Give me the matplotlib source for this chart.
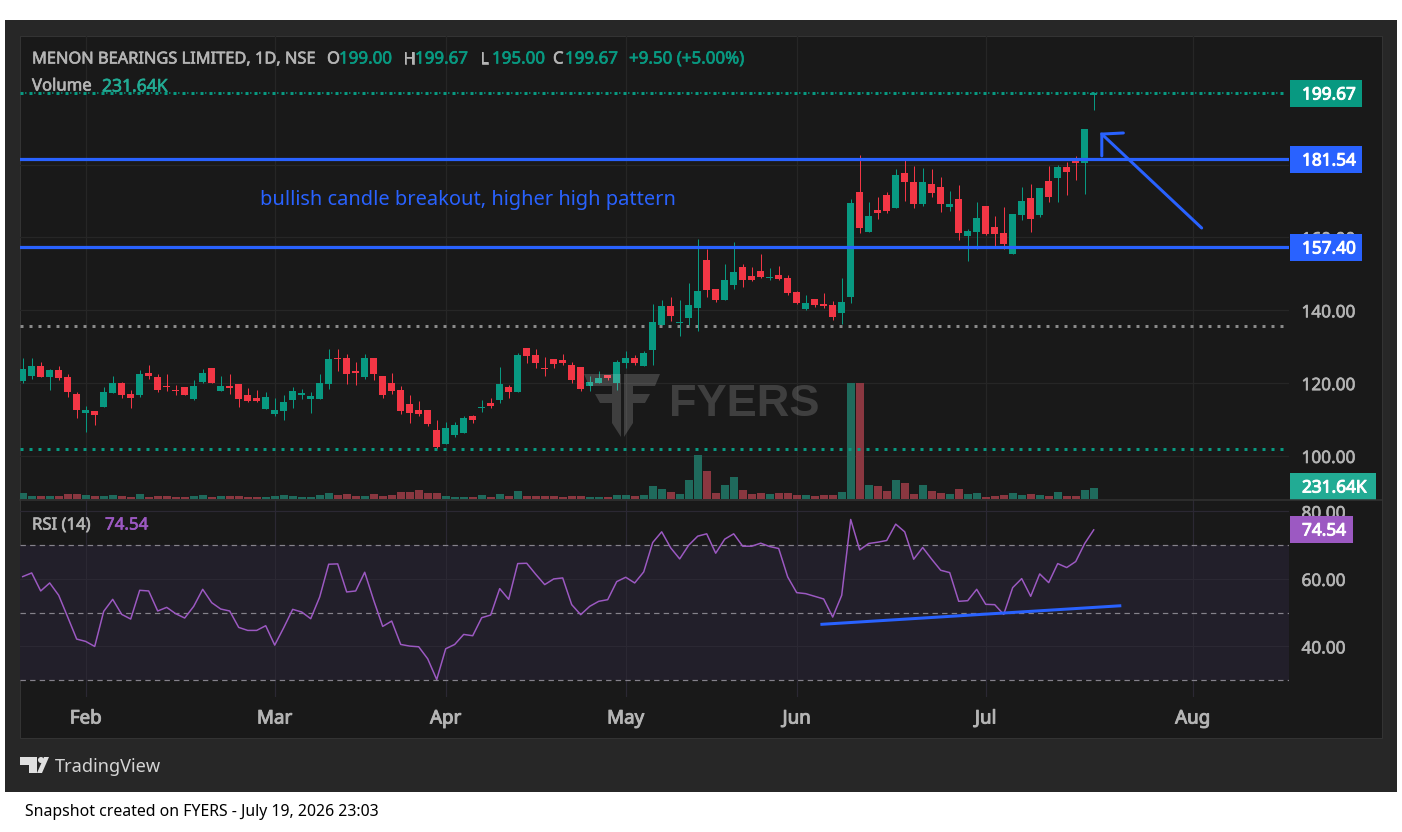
# MENON BEARINGS daily chart with volume and RSI panes

import numpy as np
import matplotlib
matplotlib.use('Agg')
import matplotlib.pyplot as plt
import matplotlib.patheffects as pe
from matplotlib.patches import Rectangle, Polygon, Circle

W, H = 1402, 832

opens = [120.59,121.96,124.71,121.69,123.61,121.69,117.02,111.80,112.35,113.45,
         117.30,120.04,117.02,116.75,122.79,121.69,119.22,118.12,118.94,115.65,
         120.32,124.16,117.84,119.22,119.77,116.75,115.92,112.90,111.53,112.35,
         115.37,116.75,115.65,115.65,119.77,126.91,126.91,123.34,121.69,126.91,
         121.96,120.04,118.12,114.28,112.63,112.63,107.14,103.29,105.76,106.31,
         110.98,113.18,114.55,115.37,118.94,117.57,129.65,127.73,124.16,126.63,
         126.36,124.98,124.44,119.22,120.04,122.24,120.04,125.53,126.91,124.71,
         129.10,135.98,141.19,136.52,137.90,140.64,153.82,145.86,142.84,146.96,
         151.90,149.43,150.80,148.88,149.71,148.88,145.04,140.37,143.11,141.74,
         141.47,139.27,143.66,172.50,161.51,167.55,171.67,168.10,177.71,175.24,
         169.20,174.69,173.87,168.37,170.57,160.41,161.51,168.65,162.88,161.24,
         155.47,166.18,170.85,166.18,175.51,176.34,179.36,181.56,180.46,199.00]
highs = [126.91,126.91,125.81,123.89,124.71,122.51,117.57,113.73,112.35,118.94,
         121.96,120.32,118.12,123.61,124.98,122.51,122.51,119.49,118.94,120.87,
         123.89,124.16,121.96,122.51,119.77,118.67,118.12,117.57,115.92,116.75,
         118.94,118.39,117.57,122.51,129.38,129.38,128.01,125.81,128.01,126.91,
         121.96,122.79,119.22,116.75,115.10,112.63,109.88,109.33,109.33,110.98,
         111.26,115.37,115.92,124.44,119.49,128.28,129.65,129.38,127.18,126.63,
         128.01,125.81,124.44,121.96,123.34,122.24,126.36,128.83,127.73,128.83,
         141.73,142.84,143.66,142.84,147.51,159.59,156.84,145.86,152.73,158.77,
         152.73,151.90,155.47,151.63,152.18,149.71,145.31,144.21,143.11,144.76,
         142.57,148.88,170.57,182.66,169.75,171.12,172.49,178.81,181.83,179.63,
         179.08,178.81,176.61,172.77,174.42,162.33,169.75,168.65,165.90,168.37,
         166.45,173.87,174.69,173.59,179.63,179.91,180.73,182.38,189.79,199.67]
lows = [120.04,121.14,121.69,118.12,120.87,116.20,110.43,106.59,108.51,113.45,
        117.30,115.92,113.18,116.20,121.14,117.57,117.84,116.75,116.75,115.37,
        120.04,120.04,117.84,117.02,113.45,114.82,114.82,112.90,110.98,109.88,
        113.18,115.65,111.80,115.65,118.39,123.34,119.77,119.49,121.14,120.87,
        115.92,117.02,111.53,109.06,110.98,108.23,102.19,103.29,105.21,106.31,
        109.06,112.08,113.18,114.55,115.92,117.57,125.53,124.16,121.96,124.16,
        124.98,120.04,117.85,117.85,120.04,120.87,118.12,124.16,124.98,124.71,
        124.98,135.98,137.07,132.95,135.98,134.33,143.66,142.29,142.84,145.86,
        146.41,148.06,148.88,148.33,148.33,144.21,141.74,140.09,140.92,140.64,
        137.35,136.25,142.02,161.24,161.51,165.08,166.73,168.10,170.02,168.10,
        168.65,171.12,167.00,167.28,159.31,153.55,156.84,160.69,157.39,156.84,
        155.47,164.81,161.51,165.63,169.75,169.75,171.67,175.79,171.94,195.00]
closes = [123.89,124.71,121.69,123.61,121.41,117.57,112.63,112.63,111.25,117.57,
          120.04,116.75,115.92,122.51,121.96,118.12,118.94,117.84,116.75,119.22,
          122.79,120.04,119.22,118.67,115.65,115.10,115.10,116.20,112.63,114.82,
          117.84,117.30,116.47,120.04,126.63,126.63,122.51,122.79,126.91,122.51,
          116.75,117.85,112.36,111.81,111.53,108.78,102.47,107.69,108.51,110.43,
          109.88,113.45,113.73,119.77,117.57,127.73,127.46,125.53,123.89,125.26,
          125.53,120.87,118.39,120.32,121.41,121.41,125.81,126.91,125.53,128.28,
          136.79,141.19,138.45,136.80,141.47,145.31,145.59,142.84,148.33,150.53,
          148.33,148.33,149.16,149.16,148.61,144.76,142.02,142.02,141.47,141.19,
          138.17,142.29,169.48,162.61,165.91,166.73,167.28,177.16,175.24,169.20,
          175.24,172.22,169.20,169.20,161.24,161.78,165.35,160.96,160.96,158.21,
          166.45,170.02,165.08,173.59,171.12,179.36,177.99,180.46,189.79,199.67]
# volume in thousands
volume = [126,63,63,63,63,105,105,84,63,63,84,63,42,105,42,63,63,42,42,63,
          84,42,63,63,63,42,42,42,63,84,63,42,42,84,126,84,105,63,63,105,
          63,84,147,147,189,126,126,63,42,42,42,84,42,105,63,168,63,63,63,63,
          42,63,63,42,42,42,84,84,63,84,274,211,147,105,400,927,590,126,295,463,
          189,105,126,105,126,126,84,84,63,84,84,147,2443,2443,295,274,168,400,337,105,
          295,168,126,105,211,105,126,42,63,84,126,84,105,84,63,147,63,63,189,231.64]
rsi = [60.69,61.78,56.44,58.81,55.15,48.71,42.18,41.49,40.00,50.40,
       53.96,49.50,48.12,56.63,56.44,50.50,51.58,49.70,48.42,51.88,
       56.93,52.97,51.09,50.50,45.64,44.75,44.75,46.14,40.40,45.54,
       50.99,50.20,48.22,54.65,64.36,64.46,56.14,56.44,61.98,53.66,
       45.94,47.52,40.59,40.10,39.90,36.34,30.20,39.31,40.59,43.56,
       43.17,48.51,49.31,57.13,53.96,64.55,64.65,61.39,58.32,60.00,
       60.30,52.38,49.41,51.88,53.37,53.86,59.21,60.50,58.81,62.08,
       70.79,73.96,69.21,65.94,70.00,72.67,73.37,67.62,71.78,73.37,
       69.70,69.70,70.59,69.60,69.01,60.59,55.94,55.64,54.85,54.06,
       48.71,55.15,77.62,68.61,70.50,70.89,71.39,76.24,73.96,65.84,
       69.31,65.84,62.57,61.88,53.37,53.56,56.93,52.48,52.38,49.50,
       57.43,60.10,54.85,61.49,58.91,64.55,63.37,65.15,70.50,74.54]

month_labels = ['Feb', 'Mar', 'Apr', 'May', 'Jun', 'Jul', 'Aug']
month_bars = [7, 28, 47, 67, 86, 107, 130]
price_ticks = [100, 120, 140, 160, 180]
rsi_ticks = [40, 60, 80]
support_levels = [181.54, 157.40]
rsi_trend_x, rsi_trend_y = [88.8, 121.9], [46.56, 52.04]
arrow_x, arrow_y = [131.0, 119.9], [162.6, 188.4]
arrow_head_x, arrow_head_y = [122.3, 119.9, 119.9], [188.7, 188.4, 182.4]

BG = '#191919'
PANEL = '#272727'
GRID = '#262626'
GREEN = '#089981'
RED = '#f23645'
BLUE = '#2962ff'
PURPLE = '#9c59c2'
GREY = '#b4b4b4'
PX = 0.72  # one pixel in points at dpi 100
XLIM = (-0.3, 140.7)
PRICE_LIM = (88.19, 215.33)


def box(x0, y0, x1, y1):
    return [x0 / W, 1 - y1 / H, (x1 - x0) / W, (y1 - y0) / H]


def fatten(txt, color, width=0.45):
    txt.set_path_effects([pe.withStroke(linewidth=width, foreground=color)])


plt.rcParams['font.family'] = 'Noto Sans'
fig = plt.figure(figsize=(W / 100, H / 100), dpi=100, facecolor='white')

# background chrome
back = fig.add_axes([0, 0, 1, 1], zorder=0)
back.set_xlim(0, W)
back.set_ylim(H, 0)
back.axis('off')
back.add_patch(Rectangle((5, 20), 1392, 772, fc=PANEL, ec='none'))
back.add_patch(Rectangle((20, 36), 1362, 702, fc=BG, ec='#333333', lw=PX))

xs = np.arange(len(closes))
ups = np.array(closes) >= np.array(opens)

# price grid stays under the volume bars
grid_ax = fig.add_axes(box(20, 36, 1289, 499), zorder=1)
grid_ax.patch.set_visible(False)
grid_ax.set_xlim(*XLIM)
grid_ax.set_ylim(*PRICE_LIM)
grid_ax.set_xticks(month_bars)
grid_ax.set_yticks(price_ticks)
grid_ax.tick_params(length=0, labelbottom=False, labelleft=False)
grid_ax.grid(True, color=GRID, lw=1.2 * PX)
for s in grid_ax.spines.values():
    s.set_visible(False)

vol_ax = fig.add_axes(box(20, 36, 1289, 499), zorder=1.5)
vol_ax.patch.set_visible(False)
vol_ax.set_xlim(*XLIM)
vol_ax.set_ylim(0, max(volume) / 0.25)
vol_ax.axis('off')
vol_ax.bar(xs, volume, width=0.89,
           color=['#1f6a5c' if u else '#8a3740' for u in ups])

# price pane
ax = fig.add_axes(box(20, 36, 1289, 499), zorder=2)
ax.patch.set_visible(False)
ax.set_xlim(*XLIM)
ax.set_ylim(*PRICE_LIM)
for s in ax.spines.values():
    s.set_visible(False)
ax.yaxis.tick_right()
ax.set_yticks(price_ticks)
ax.set_yticklabels(['%.2f' % t for t in price_ticks], fontsize=12.4, color=GREY)
ax.tick_params(axis='y', length=0, pad=9)
ax.set_xticks([])

cols = [GREEN if u else RED for u in ups]
ax.vlines(xs, lows, highs, colors=cols, lw=1.0 * PX, zorder=3)
ax.bar(xs, np.abs(np.array(closes) - np.array(opens)),
       bottom=np.minimum(opens, closes), width=0.78, color=cols, zorder=3)

# levels
ax.plot([-0.3, 140.2], [135.62, 135.62], color='#8a8a8a', lw=3 * PX, ls=(0, (1, 2)), zorder=2)
ax.plot([-0.3, 140.2], [101.84, 101.84], color=GREEN, lw=3 * PX, ls=(0, (1, 2)), zorder=2)
ax.plot([-0.3, 140.2], [closes[-1], closes[-1]], color=GREEN, lw=3 * PX, ls=(0, (1, 2)), zorder=2)
ax.plot([0.2, 140.2], [closes[-1], closes[-1]], color=GREEN, lw=1.5 * PX, ls=(0, (1, 5)), zorder=2)
for lvl in support_levels:
    ax.axhline(lvl, color=BLUE, lw=3.2 * PX, zorder=4)
ax.plot(arrow_x, arrow_y, color=BLUE, lw=3 * PX, solid_capstyle='round', zorder=5)
ax.plot(arrow_head_x, arrow_head_y, color=BLUE, lw=3 * PX, solid_capstyle='round',
        solid_joinstyle='miter', zorder=5)

# RSI pane
rax = fig.add_axes(box(20, 500, 1289, 697), zorder=2)
rax.patch.set_visible(False)
rax.set_xlim(*XLIM)
rax.set_ylim(25.02, 83.39)
for s in rax.spines.values():
    s.set_visible(False)
rax.axhspan(30, 70, color='#221f2a', lw=0, zorder=0)
rax.yaxis.tick_right()
rax.set_yticks(rsi_ticks)
rax.set_yticklabels(['%.2f' % t for t in rsi_ticks], fontsize=12.4, color=GREY)
rax.tick_params(axis='y', length=0, pad=9)
rax.set_xticks(month_bars)
rax.set_xticklabels(month_labels, fontsize=13.5, color=GREY)
rax.tick_params(axis='x', length=0, pad=9)
rax.grid(True, color='#2b2833', lw=1.2 * PX)
rax.set_axisbelow(True)
for lvl in (70, 50, 30):
    rax.axhline(lvl, color='#85828b', lw=1.2 * PX, ls=(0, (4.5, 3.5)), zorder=2)
rax.plot(xs, rsi, color=PURPLE, lw=1.5 * PX, zorder=3)
rax.plot(rsi_trend_x, rsi_trend_y, color=BLUE, lw=3 * PX, zorder=4)

for a in (ax, rax):
    for lbl in a.get_yticklabels():
        lbl.set_verticalalignment('center_baseline')
        fatten(lbl, GREY)
for lbl in rax.get_xticklabels():
    fatten(lbl, GREY, 0.7)

# overlay with text, tags and watermark, in picture pixels
top = fig.add_axes([0, 0, 1, 1], zorder=5)
top.patch.set_visible(False)
top.set_xlim(0, W)
top.set_ylim(H, 0)
top.axis('off')

top.plot([20, 1382], [499.5, 499.5], color='#333333', lw=1.5 * PX)

top.add_patch(Polygon([(584, 374), (621, 374), (621, 437), (612, 423), (612, 403), (600, 403),
                       (595, 394), (612, 394), (612, 386), (589, 386)], fc='white', alpha=0.17, lw=0))
top.add_patch(Polygon([(624, 374), (660, 374), (655, 386), (633, 386), (633, 394), (650, 394),
                       (645, 403), (633, 403), (633, 423), (624, 437)], fc='white', alpha=0.17, lw=0))
top.text(669, 405, 'FYERS', fontsize=32.5, fontweight='bold', family='Liberation Sans',
         color='white', alpha=0.17, va='center', ha='left')


def label(x, y, s, color=GREY, size=12, ha='left', heavy=True):
    t = top.text(x, y + 1.5, s, color=color, fontsize=size, va='center', ha=ha)
    if heavy:
        fatten(t, color)


label(32, 58, 'MENON BEARINGS LIMITED, 1D, NSE', size=11.8)
for x, s in [(327, 'O'), (403, 'H'), (480, 'L'), (553, 'C')]:
    label(x, 58, s)
for x, s in [(339, '199.00'), (415, '199.67'), (492, '195.00'), (565, '199.67'),
             (629, '+9.50 (+5.00%)')]:
    label(x, 58, s, color=GREEN, size=12.2)
label(32, 85, 'Volume')
label(102, 85, '231.64K', color='#22ab94', size=12.6)
label(32, 524, 'RSI (14)')
label(105, 524, '74.54', color=PURPLE, size=12.2)
label(260, 199, 'bullish candle breakout, higher high pattern', color=BLUE, size=14.4, heavy=False)

tags = [(1290, 80, 1362, '199.67', GREEN), (1290, 146, 1362, '181.54', BLUE),
        (1290, 234, 1362, '157.40', BLUE), (1290, 473, 1376, '231.64K', '#22ab94'),
        (1290, 516, 1353, '74.54', PURPLE)]
for x0, y0, x1, s, c in tags:
    top.add_patch(Rectangle((x0, y0), x1 - x0, 26.5, fc=c, ec='none'))
    t = top.text(1302, y0 + 14.5, s, color='white', fontsize=12.4, va='center', ha='left')
    fatten(t, 'white', 0.7)

# TradingView mark and footer
top.add_patch(Polygon([(20, 757), (37, 757), (37, 773), (29, 773), (29, 765), (20, 765)],
                      fc='#e0e0e0', lw=0))
top.add_patch(Circle((41, 760), 3, fc='#e0e0e0', lw=0))
top.add_patch(Polygon([(44, 757), (49, 757), (42, 773), (37, 773)], fc='#e0e0e0', lw=0))
label(55, 766, 'TradingView', color='#d4d4d4', size=13.1, heavy=False)
label(25, 811, 'Snapshot created on FYERS - July 19, 2026 23:03', color='black', size=11.4, heavy=False)

fig.savefig('out.png', dpi=100)
